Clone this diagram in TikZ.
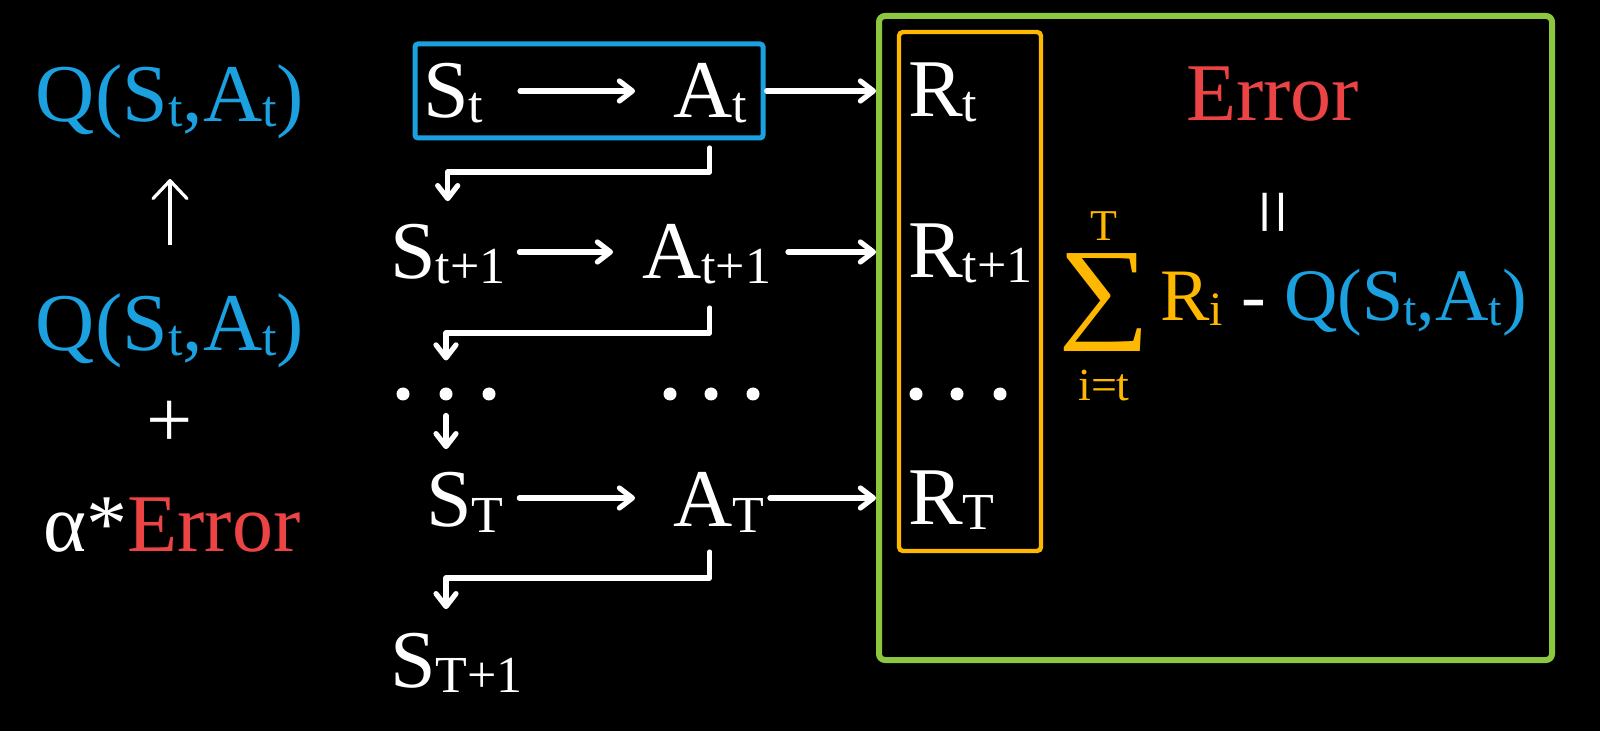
\documentclass[tikz,border=0pt]{standalone}
\usepackage{fontspec}
\setmainfont{Liberation Serif}
\usetikzlibrary{arrows.meta,calc}
\definecolor{qblue}{RGB}{27,160,224}
\definecolor{ered}{RGB}{236,68,68}
\definecolor{rorange}{RGB}{255,184,0}
\definecolor{bgreen}{RGB}{141,198,63}
\newcommand{\sbs}[1]{\raisebox{-2.5pt}{\fontsize{26pt}{26pt}\selectfont #1}}
\newcommand{\sbsr}[1]{\raisebox{-2.3pt}{\fontsize{24pt}{24pt}\selectfont #1}}
\begin{document}
\begin{tikzpicture}[x=0.5pt,y=-0.5pt,
  txt/.style={inner sep=0pt, outer sep=0pt, text=white, font=\fontsize{41pt}{41pt}\selectfont, anchor=base west},
  arr/.style={draw=white, line width=2.6pt, line cap=round, line join=round, -{Straight Barb[length=6.5pt,width=10pt,round]}},
  uparr/.style={draw=white, line width=1.6pt, -{Straight Barb[length=9pt,width=17pt,round]}},
  dot/.style={circle, fill=white, inner sep=0pt, outer sep=0pt, minimum size=6.5pt},
  boxq/.style={draw=qblue, line width=2.5pt, inner sep=0pt, rounded corners=1.5pt},
  boxg/.style={draw=bgreen, line width=3pt, inner sep=0pt, rounded corners=3pt},
  boxo/.style={draw=rorange, line width=2.2pt, inner sep=0pt, rounded corners=2pt}
]
\fill[black] (0,0) rectangle (1600,731);
\useasboundingbox (0,0) rectangle (1600,731);

% boxes
\node[boxq, minimum width=174pt, minimum height=47pt] (bbox) at (589,91) {};
\node[boxg, minimum width=336.5pt, minimum height=322pt] (gbox) at (1215.5,338) {};
\node[boxo, minimum width=71pt, minimum height=259.5pt] (obox) at (970,291.5) {};

% left column
\node[txt, anchor=base, text=qblue] (q1) at (170,122) {Q(S\sbs{t},A\sbs{t})};
\node[txt, anchor=base, text=qblue] (q2) at (170,351) {Q(S\sbs{t},A\sbs{t})};
\node[txt, anchor=base] (plus) at (170,448) {+};
\node[txt, anchor=base] (alpha) at (172,552) {α*\textcolor{ered}{Error}};
\draw[uparr] ($(q2.base)+(0,-106)$) -- ($(q1.base)+(0,57)$);

% chain
\node[txt] (st) at (423,118) {S\sbs{t}};
\node[txt] (at) at (673,118) {A\sbs{t}};
\node[txt] (st1) at (390,279) {S\sbs{t+1}};
\node[txt] (at1) at (642,279) {A\sbs{t+1}};
\node[dot] (dl1) at (403,394) {};
\node[dot] (dl2) at (446,394) {};
\node[dot] (dl3) at (489,394) {};
\node[dot] (dm1) at (670,394) {};
\node[dot] (dm2) at (711,394) {};
\node[dot] (dm3) at (753,394) {};
\node[txt] (sT) at (426,527) {S\sbs{T}};
\node[txt] (aT) at (673,527) {A\sbs{T}};
\node[txt] (sT1) at (390,687) {S\sbs{T+1}};

% rewards
\node[txt] (rt) at (908,117) {R\sbs{t}};
\node[txt] (rt1) at (908,278) {R\sbs{t+1}};
\node[dot] (dr1) at (916,394) {};
\node[dot] (dr2) at (957,394) {};
\node[dot] (dr3) at (1000,394) {};
\node[txt] (rT) at (908,524) {R\sbs{T}};

% error formula
\node[txt, text=ered] (err) at (1186,121) {Error};
\node[inner sep=0pt, text=white, rotate=90, font=\fontsize{41pt}{41pt}\selectfont] (eq) at (1282,212) {=};
\node[inner sep=0pt, text=rorange] (sum) at (1104,303) {\resizebox*{46pt}{49pt}{∑}};
\node[inner sep=0pt, anchor=base, text=rorange, font=\fontsize{22pt}{22pt}\selectfont] (supT) at (1104,241) {T};
\node[inner sep=0pt, anchor=base, text=rorange, font=\fontsize{23pt}{23pt}\selectfont] (subi) at (1104,401) {i=t};
\node[txt, font=\fontsize{37pt}{37pt}\selectfont] (rhs) at (1160,321) {\textcolor{rorange}{R\sbsr{i}} - \textcolor{qblue}{Q(S\sbsr{t},A\sbsr{t})}};

% state -> action arrows
\draw[arr, shorten <=18.5pt, shorten >=19pt] ([yshift=13.5pt]st.base east) -- ([yshift=13.5pt]at.base west);
\draw[arr, shorten <=7pt, shorten >=14.5pt] ([yshift=13.5pt]st1.base east) -- ([yshift=13.5pt]at1.base west);
\draw[arr, shorten <=8pt, shorten >=19pt] ([yshift=14.5pt]sT.base east) -- ([yshift=14.5pt]aT.base west);

% action -> reward arrows
\coordinate (p1) at ([yshift=13.5pt]at.base east);
\coordinate (p2) at ([yshift=13.5pt]at1.base east);
\coordinate (p3) at ([yshift=14.5pt]aT.base east);
\draw[arr, shorten <=10pt] (p1) -- (p1 -| gbox.west);
\draw[arr, shorten <=8.5pt] (p2) -- (p2 -| gbox.west);
\draw[arr, shorten <=3pt] (p3) -- (p3 -| gbox.west);

% elbow arrows
\draw[arr, shorten >=11.75pt] ($(at.base)+(0,30)$) -- ++(0,24) -| (st1.north);
\draw[arr, shorten >=13.5pt] ($(at1.base -| at.base)+(0,29)$) -- ++(0,25) -| (dl2.north);
\draw[arr, shorten <=7.5pt, shorten >=11.75pt] (dl2.south) -- (dl2 |- sT.north);
\draw[arr, shorten >=11.75pt] ($(aT.base -| at.base)+(0,25)$) -- ++(0,26) -| (dl2 |- sT1.north);
\end{tikzpicture}
\end{document}
